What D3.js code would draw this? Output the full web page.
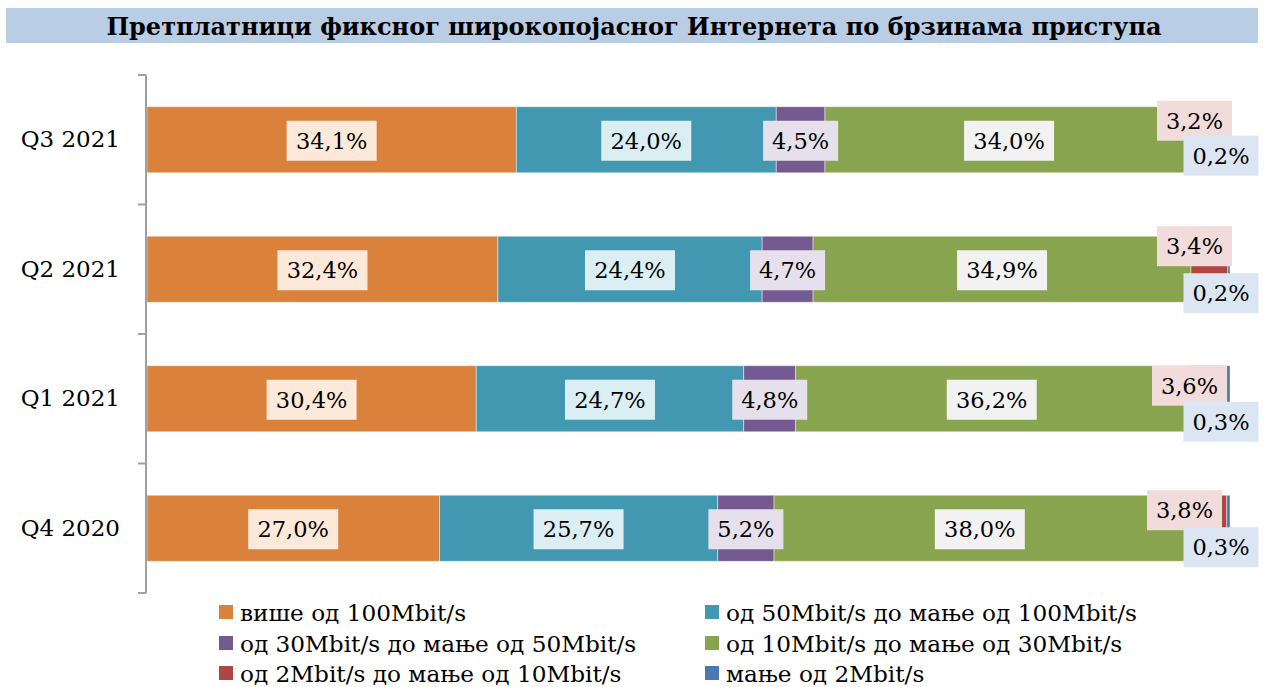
<!DOCTYPE html>
<html>
<head>
<meta charset="utf-8">
<script src="https://cdn.jsdelivr.net/npm/d3@7"></script>
<style>
  html, body { margin: 0; padding: 0; background: #fff; }
  svg { display: block; }
  text { font-family: "DejaVu Serif", "Liberation Serif", serif; }
</style>
</head>
<body>
<svg id="chart" width="1264" height="687"></svg>
<script>
// ---------- data ----------
const title = "Претплатници фиксног широкопојасног Интернета по брзинама приступа";
const categories = ["Q3 2021", "Q2 2021", "Q1 2021", "Q4 2020"];
const seriesNames = [
  "више од 100Mbit/s",
  "од 50Mbit/s до мање од 100Mbit/s",
  "од 30Mbit/s до мање од 50Mbit/s",
  "од 10Mbit/s до мање од 30Mbit/s",
  "од 2Mbit/s до мање од 10Mbit/s",
  "мање од 2Mbit/s"
];
const over100   = [34.1, 32.4, 30.4, 27.0];
const from50    = [24.0, 24.4, 24.7, 25.7];
const from30    = [4.5, 4.7, 4.8, 5.2];
const from10    = [34.0, 34.9, 36.2, 38.0];
const from2     = [3.2, 3.4, 3.6, 3.8];
const under2    = [0.2, 0.2, 0.3, 0.3];
const seriesValues = [over100, from50, from30, from10, from2, under2];

// ---------- styles / layout ----------
const colors   = ["#da823c", "#4298b0", "#755a91", "#89a44e", "#b04642", "#4a7ab0"];
const boxFills = ["#fde9d9", "#dbeef3", "#e5e0ec", "#f2f2f2", "#f2dcdb", "#dce6f2"];
// manual label placement for the two small series (offset from right end of bar / bar top)
const smallLabelDX = [[-35.5, -35.5, -40.5, -45.5], [-9, -9, -9, -9]];
const smallLabelDY = [[14, 10, 20, 15], [49, 57, 56, 52]];

const svg = d3.select("#chart");
const fmt = v => v.toFixed(1).replace(".", ",") + "%";

// title bar
svg.append("rect").attr("x", 6).attr("y", 8).attr("width", 1252).attr("height", 35).attr("fill", "#b9cde5");
svg.append("text").attr("x", 634).attr("y", 34.5).attr("text-anchor", "middle")
  .attr("font-size", 24).attr("font-weight", "bold").attr("fill", "#000")
  .text(title);

const x = d3.scaleLinear().domain([0, 100]).range([147, 1230]);
const y = d3.scaleBand().domain(categories).range([75, 593]).paddingInner(0.49).paddingOuter(0.245);

const stack = categories.map((c, i) => {
  let acc = 0;
  return seriesValues.map((arr, s) => {
    const seg = { cat: c, i, s, v: arr[i], x0: acc, x1: acc + arr[i] };
    acc += arr[i];
    return seg;
  });
});
const segs = stack.flat();

// bars
svg.append("g").selectAll("rect").data(segs).join("rect")
  .attr("x", d => x(d.x0))
  .attr("y", d => y(d.cat))
  .attr("width", d => x(d.x1) - x(d.x0))
  .attr("height", y.bandwidth())
  .attr("fill", d => colors[d.s])
  .attr("stroke", "rgba(255,255,255,0.55)")
  .attr("stroke-width", 0.8);

// axis
const axisG = svg.append("g").attr("transform", "translate(146,0)");
const yAxis = d3.axisLeft(y).tickSize(0).tickPadding(26);
axisG.call(yAxis);
axisG.select(".domain").remove();
axisG.selectAll(".tick text").attr("font-size", 23).attr("fill", "#000")
  .style("font-family", "'DejaVu Serif', serif");
const bounds = categories.map(c => y(c) - y.step() * y.paddingInner() / 2).concat([593]);
axisG.append("line").attr("x1", 0).attr("x2", 0).attr("y1", 75).attr("y2", 593)
  .attr("stroke", "#a0a0a0").attr("stroke-width", 2);
axisG.selectAll(".sep").data(bounds).join("line").attr("class", "sep")
  .attr("x1", -8).attr("x2", 0).attr("y1", d => d).attr("y2", d => d)
  .attr("stroke", "#a0a0a0").attr("stroke-width", 2);

// labels
const labelFont = 22.5;
const labelG = svg.append("g");
function addLabel(cx, cy, txt, fill) {
  const g = labelG.append("g");
  g.append("text").attr("x", cx).attr("y", cy).attr("text-anchor", "middle")
    .attr("dominant-baseline", "central").attr("font-size", labelFont).attr("fill", "#000")
    .text(txt);
  const bw = txt.length >= 5 ? 90 : 75;
  g.insert("rect", "text").attr("x", cx - bw / 2).attr("y", cy - 20).attr("width", bw).attr("height", 40).attr("fill", fill);
}
segs.filter(d => d.s < 4).forEach(d => {
  addLabel((x(d.x0) + x(d.x1)) / 2, y(d.cat) + y.bandwidth() / 2 + 1, fmt(d.v), boxFills[d.s]);
});
segs.filter(d => d.s >= 4).forEach(d => {
  const k = d.s - 4;
  addLabel(x(100) + smallLabelDX[k][d.i], y(d.cat) + smallLabelDY[k][d.i], fmt(d.v), boxFills[d.s]);
});

// legend
const legendCols = [219, 705];
const legendRows = [612, 643, 673];
const legG = svg.append("g");
seriesNames.forEach((name, s) => {
  const lx = legendCols[s % 2], ly = legendRows[Math.floor(s / 2)];
  legG.append("rect").attr("x", lx).attr("y", ly - 7).attr("width", 14).attr("height", 14).attr("fill", colors[s]);
  legG.append("text").attr("x", lx + 21).attr("y", ly).attr("dominant-baseline", "central")
    .attr("font-size", 23.2).attr("fill", "#000").text(name);
});
</script>
</body>
</html>
